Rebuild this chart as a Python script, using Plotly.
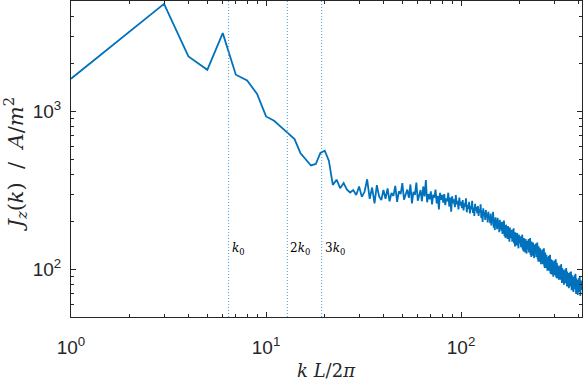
import numpy as np
import plotly.graph_objects as go

# spectrum J_z(k) at integer wavenumbers k = 1 .. 415
k_start = 1
jz_low = [
    1610, 3200, 4800, 2230, 1835, 3130, 1707, 1570, 1290, 930,
    873, 793, 723, 668, 546, 494, 455, 465, 546, 564,
    488, 343, 370, 327, 352, 320, 307,
]
jz_mid = [
    318, 296, 335, 288, 310, 372, 280, 330, 262, 342, 290, 275, 318,
    280, 326, 270, 305, 292, 338, 268, 312, 300, 352, 276, 298, 320, 284, 345, 262, 310, 296, 355, 272,
    300, 318, 270, 335, 290, 368, 266, 300, 278, 312, 258, 298, 285, 320, 262, 292, 240, 305, 276, 296,
    265, 300, 255, 282, 270, 306, 250, 285, 232, 290, 262, 278, 248, 296, 258, 272, 240, 285, 255, 268,
    244, 275, 236, 262, 250, 282, 230, 256, 242, 268, 226, 252, 240, 272, 228, 246, 218, 260, 236, 248,
    226, 252, 218, 240, 230, 258, 212, 236, 200, 244, 220, 230, 206, 238, 214, 226, 198, 232, 208, 218,
    196, 226, 190, 210, 202, 232, 184, 206, 178, 214, 196, 204, 180, 212, 188, 198, 172, 206, 184, 192,
    176, 200, 168, 188, 180, 204, 162, 184, 158, 192, 172, 180, 156, 188, 166, 176, 150, 184, 162, 170,
    158, 178, 150, 168, 160, 182, 146, 164, 140, 172, 154, 160, 142, 170, 150, 156, 136, 166, 148, 154,
]
jz_high = [
    146, 162, 138, 154, 148, 166, 134, 150, 130, 158, 142, 148, 128, 156, 138, 146, 126, 152, 136, 142,
    134, 156, 128, 146, 138, 158, 124, 142, 120, 150, 134, 140, 122, 148, 130, 138, 118, 144, 128, 134,
    126, 146, 120, 136, 128, 148, 116, 132, 112, 140, 124, 130, 112, 136, 118, 126, 108, 132, 116, 122,
    116, 134, 108, 124, 118, 136, 106, 120, 102, 128, 112, 118, 102, 124, 108, 114, 98, 120, 106, 112,
    106, 122, 98, 112, 106, 124, 96, 110, 94, 116, 102, 108, 93, 114, 100, 106, 90, 112, 98, 104,
    98, 114, 92, 104, 100, 116, 90, 102, 88, 110, 96, 100, 88, 106, 94, 98, 86, 104, 92, 98,
    92, 106, 86, 98, 94, 108, 84, 96, 82, 102, 90, 95, 83, 100, 88, 92, 80, 98, 86, 92,
    88, 100, 82, 94, 89, 102, 80, 92, 78, 97, 86, 90, 78, 95, 84, 88, 76, 93, 82, 88,
    84, 96, 78, 90, 86, 97, 76, 88, 74, 92, 82, 86, 74, 90, 80, 84, 72, 89, 78, 84,
    80, 92, 75, 86, 82, 94, 72, 84, 70, 88, 78, 82, 71, 86, 76, 80, 69, 84, 75, 80,
    77, 88, 72, 82, 79, 90, 70, 80, 68, 84, 76, 80, 74, 85, 78,
]
jz = jz_low + jz_mid + jz_high
k = np.arange(k_start, k_start + len(jz))

k0 = 6.43
harmonics = [1, 2, 3]
harmonic_labels = ["<i>k</i><sub>0</sub>", "2<i>k</i><sub>0</sub>", "3<i>k</i><sub>0</sub>"]

x_ticks = [1, 10, 100]
x_ticktext = ["10<sup>0</sup>", "10<sup>1</sup>", "10<sup>2</sup>"]
y_ticks = [100, 1000]
y_ticktext = ["10<sup>2</sup>", "10<sup>3</sup>"]

blue = "#0072BD"
axis_col = "#262626"
serif = "DejaVu Serif"

fig = go.Figure()
fig.add_trace(go.Scatter(x=k, y=jz, mode="lines", line=dict(color=blue, width=1.8), showlegend=False))

for n, lab in zip(harmonics, harmonic_labels):
    fig.add_vline(x=n * k0, line=dict(color="#4a9fd8", width=1, dash="1px,2px"))
    fig.add_annotation(x=np.log10(n * k0), y=np.log10(135), text=lab, showarrow=False,
                       xanchor="left", xshift=1, font=dict(family=serif, size=12, color="black"))

axis_common = dict(
    type="log", showline=True, linecolor=axis_col, linewidth=1, mirror="ticks",
    ticks="inside", ticklen=5, tickcolor=axis_col, showgrid=False, zeroline=False,
    automargin=False,
    tickfont=dict(family="Liberation Sans", size=19, color=axis_col),
    minor=dict(ticks="inside", ticklen=3, tickcolor=axis_col, showgrid=False, dtick="D1"),
)
fig.update_xaxes(range=[0, np.log10(417)], tickvals=x_ticks, ticktext=x_ticktext,
                 ticklabelstandoff=13, **axis_common)
fig.update_yaxes(range=[np.log10(50), np.log10(5000)], tickvals=y_ticks, ticktext=y_ticktext,
                 ticklabelstandoff=5, **axis_common)

fig.add_annotation(xref="paper", yref="paper", x=0.5, y=-0.168, yanchor="middle",
                   text="<i>k</i> <i>L</i>/2<i>π</i>", showarrow=False,
                   font=dict(family=serif, size=18, color=axis_col))
fig.add_annotation(xref="paper", yref="paper", x=-0.11, y=0.485, xanchor="center", textangle=-90,
                   text="<i>J<sub>z</sub></i>(<i>k</i>)&nbsp;&nbsp;/&nbsp;&nbsp;<i>A</i>/<i>m</i><sup>2</sup>",
                   showarrow=False, font=dict(family=serif, size=21, color=axis_col))

fig.update_layout(
    width=583, height=381, margin=dict(l=71, r=1, t=1, b=64),
    plot_bgcolor="white", paper_bgcolor="white",
)
fig.write_html(
    "out.html",
    config={"displayModeBar": False},
    post_script="document.body.style.margin='0';document.body.style.overflow='hidden';",
)
